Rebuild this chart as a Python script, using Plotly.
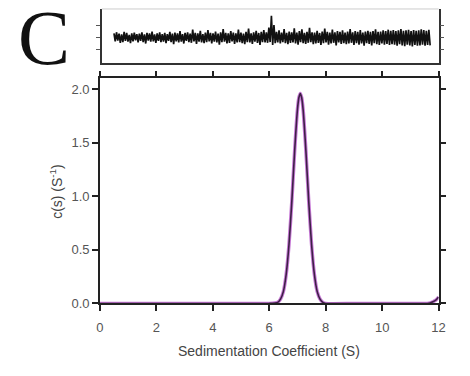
import plotly.graph_objects as go
import numpy as np

# c(s) distribution
s_vals = [0.0, 1.0, 2.0, 3.0, 4.0, 5.0, 6.0, 6.3, 6.4, 6.5, 6.6, 6.7, 6.8, 6.9, 7.0,
          7.05, 7.1, 7.15, 7.2, 7.3, 7.4, 7.5, 7.6, 7.7, 7.8, 7.9, 8.0, 9.0, 10.0,
          11.0, 11.6, 11.7, 11.8, 11.9, 12.0]
c_vals = [0.0, 0.0, 0.0, 0.0, 0.0, 0.0, 0.0, 0.01, 0.04, 0.11, 0.27, 0.55, 0.95, 1.42, 1.81,
          1.92, 1.96, 1.92, 1.81, 1.42, 0.95, 0.55, 0.27, 0.11, 0.04, 0.01, 0.0, 0.0, 0.0,
          0.0, 0.0, 0.005, 0.015, 0.03, 0.06]

# residuals (fringes), scan from s=0.5 to s=11.7
res_start, res_end = 0.5, 11.7
residuals = [
    0.012,-0.010,0.015,-0.008,0.011,-0.014,0.009,-0.012,0.016,-0.009,0.013,-0.011,0.008,-0.015,0.012,-0.010,0.014,-0.007,0.010,-0.013,
    0.011,-0.009,0.015,-0.012,0.009,-0.016,0.013,-0.008,0.012,-0.011,0.017,-0.010,0.009,-0.014,0.012,-0.009,0.015,-0.012,0.010,-0.011,
    0.013,-0.015,0.010,-0.009,0.016,-0.012,0.011,-0.018,0.014,-0.010,0.012,-0.013,0.018,-0.011,0.010,-0.016,0.013,-0.009,0.015,-0.012,
    0.011,-0.014,0.022,-0.010,0.013,-0.017,0.012,-0.011,0.019,-0.013,0.010,-0.015,0.014,-0.012,0.021,-0.010,0.013,-0.016,0.012,-0.011,
    0.017,-0.013,0.011,-0.019,0.015,-0.012,0.024,-0.011,0.013,-0.016,0.012,-0.014,0.018,-0.010,0.014,-0.017,0.012,-0.013,0.022,-0.012,
    0.014,-0.015,0.011,-0.018,0.016,-0.012,0.025,-0.013,0.012,-0.017,0.015,-0.011,0.019,-0.014,0.013,-0.020,0.016,-0.012,0.021,-0.013,
    0.015,-0.014,0.028,-0.012,0.060,-0.020,0.035,-0.015,0.016,-0.013,0.020,-0.016,0.014,-0.012,0.024,-0.015,0.013,-0.018,0.017,-0.014,
    0.015,-0.013,0.026,-0.016,0.014,-0.019,0.018,-0.012,0.023,-0.015,0.013,-0.017,0.016,-0.014,0.027,-0.012,0.015,-0.018,0.014,-0.016,
    0.019,-0.014,0.013,-0.020,0.017,-0.015,0.025,-0.013,0.016,-0.019,0.014,-0.016,0.022,-0.014,0.015,-0.021,0.018,-0.013,0.016,-0.017,
    0.020,-0.015,0.014,-0.018,0.017,-0.016,0.024,-0.014,0.015,-0.020,0.018,-0.015,0.016,-0.019,0.021,-0.016,0.014,-0.022,0.017,-0.015,
    0.019,-0.017,0.016,-0.021,0.018,-0.015,0.023,-0.018,0.016,-0.020,0.017,-0.016,0.020,-0.019,0.018,-0.017,0.022,-0.020,0.019,-0.018,
    0.021,-0.019,0.018,-0.022,0.020,-0.018,0.024,-0.021,0.019,-0.023,0.020,-0.019,0.022,-0.021,0.018,-0.024,0.021,-0.020,0.019,-0.022,
    0.020,-0.021,0.023,-0.019,0.021,-0.022,0.019,-0.020,0.022,-0.021,
]
res_s = np.linspace(res_start, res_end, len(residuals))

x_ticks = [0, 2, 4, 6, 8, 10, 12]
y_ticks = [0.0, 0.5, 1.0, 1.5, 2.0]
y_tick_labels = ["0.0", "0.5", "1.0", "1.5", "2.0"]
res_ticks = [-0.033, 0, 0.033]

# page body has an 8px margin: figure is placed at (8, 8) in the window
OFF = 8
W, H = 470 - OFF, 376 - OFF


def px(p):
    return min(1.0, max(0.0, (p - OFF) / W))


def py(p):
    return min(1.0, max(0.0, 1 - (p - OFF) / H))


X0, X1 = 98, 445          # pixel columns of s=0 and s=12
PX_PER_S = (X1 - X0) / 12.0

fig = go.Figure()

fig.add_trace(go.Scatter(x=s_vals, y=c_vals, mode="lines",
                         line=dict(color="#c77ad6", width=3.5, shape="spline", smoothing=0.6),
                         xaxis="x", yaxis="y", hoverinfo="skip"))
fig.add_trace(go.Scatter(x=s_vals, y=c_vals, mode="lines",
                         line=dict(color="#3e2046", width=1.6, shape="spline", smoothing=0.6),
                         xaxis="x", yaxis="y"))
fig.add_trace(go.Scatter(x=res_s, y=residuals, mode="lines",
                         line=dict(color="#111111", width=1.7),
                         xaxis="x2", yaxis="y2"))

axis_common = dict(showline=True, linecolor="#222", linewidth=1.5, ticks="outside",
                   ticklen=6, tickwidth=1.5, tickcolor="#222", showgrid=False,
                   zeroline=False, tickfont=dict(family="Liberation Sans, Arial", size=13, color="#555"))

fig.update_layout(
    width=W, height=H,
    margin=dict(l=0, r=0, t=0, b=0),
    paper_bgcolor="white", plot_bgcolor="white",
    showlegend=False,
    xaxis=dict(domain=[px(X0), px(X1)], range=[0, 12], tickvals=x_ticks,
               mirror="ticks", anchor="y", ticklabelstandoff=5, **axis_common),
    yaxis=dict(domain=[py(310), py(80)], range=[0, 2.1], tickvals=y_ticks,
               ticktext=y_tick_labels, mirror="ticks", anchor="x", **axis_common),
    xaxis2=dict(domain=[px(100), px(445)], range=[(100 - X0) / PX_PER_S, (445 - X0) / PX_PER_S],
                showticklabels=False, anchor="y2", showline=True, linecolor="#333",
                linewidth=1.5, ticks="", showgrid=False, zeroline=False),
    yaxis2=dict(domain=[py(64), py(9)], range=[-0.069, 0.079], tickvals=res_ticks,
                showticklabels=False, anchor="x2", showline=True, linecolor="#333",
                linewidth=1.5, ticks="outside", ticklen=4, tickcolor="#555", mirror="ticks",
                showgrid=False, zeroline=False),
    annotations=[
        dict(text="C", x=px(41), y=py(38), xref="paper", yref="paper", showarrow=False,
             font=dict(family="Liberation Serif, Times New Roman", size=78, color="#111"),
             xanchor="center", yanchor="middle", height=62, valign="middle"),
        dict(text="Sedimentation Coefficient (S)", x=px(271), y=py(359), xref="paper",
             yref="paper", showarrow=False, xanchor="center", yanchor="middle",
             font=dict(family="Liberation Sans, Arial", size=14, color="#444")),
        dict(text="c(s) (S<sup>-1</sup>)", x=px(53), y=py(195), xref="paper",
             yref="paper", showarrow=False, textangle=-90, xanchor="center", yanchor="middle",
             font=dict(family="Liberation Sans, Arial", size=14, color="#444")),
    ],
    shapes=[
        dict(type="line", xref="paper", yref="paper", x0=px(100), x1=px(445),
             y0=py(9), y1=py(9), line=dict(color="#cccccc", width=1)),
    ],
)

fig.write_html("out.html")
